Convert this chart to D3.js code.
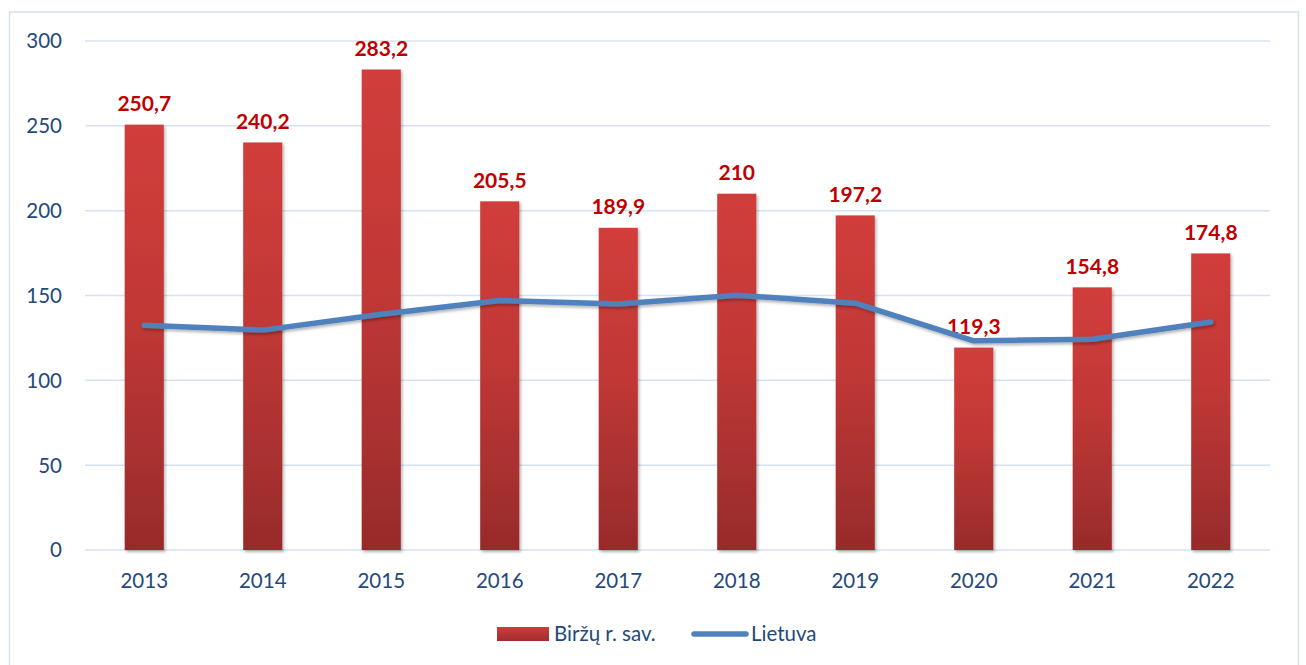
<!DOCTYPE html>
<html>
<head>
<meta charset="utf-8">
<script src="https://cdn.jsdelivr.net/npm/d3@7/dist/d3.min.js"></script>
<style>
  html, body { margin: 0; padding: 0; background: #fff; }
  svg { display: block; }
</style>
</head>
<body>
<svg id="chart" width="1306" height="665"></svg>
<script>
// Years shown on the horizontal axis
const years = ["2013", "2014", "2015", "2016", "2017", "2018", "2019", "2020", "2021", "2022"];
// Biržų r. sav. (bars)
const birzai = [250.7, 240.2, 283.2, 205.5, 189.9, 210, 197.2, 119.3, 154.8, 174.8];
// Lietuva (line)
const lietuva = [132.4, 129.6, 139.0, 147.0, 145.0, 150.2, 145.5, 123.3, 124.2, 134.4];
// Value axis ticks
const yTicks = [0, 50, 100, 150, 200, 250, 300];

const svg = d3.select("#chart");
const font = "Lato, 'Noto Sans', sans-serif";
const axisColor = "#24497c";

const defs = svg.append("defs");
const grad = defs.append("linearGradient")
  .attr("id", "barGrad").attr("x1", 0).attr("y1", 0).attr("x2", 0).attr("y2", 1);
grad.append("stop").attr("offset", "0%").attr("stop-color", "#d13d3b");
grad.append("stop").attr("offset", "45%").attr("stop-color", "#c13836");
grad.append("stop").attr("offset", "100%").attr("stop-color", "#982b2b");

const legGrad = defs.append("linearGradient")
  .attr("id", "legGrad").attr("x1", 0).attr("y1", 0).attr("x2", 0).attr("y2", 1);
legGrad.append("stop").attr("offset", "0%").attr("stop-color", "#cf3c3a");
legGrad.append("stop").attr("offset", "100%").attr("stop-color", "#9e2d2d");

const shadow = defs.append("filter").attr("id", "shadow")
  .attr("x", "-20%").attr("y", "-20%").attr("width", "140%").attr("height", "140%");
shadow.append("feDropShadow").attr("dx", 1.5).attr("dy", 2).attr("stdDeviation", 1.8)
  .attr("flood-color", "#000").attr("flood-opacity", 0.3);

// Outer frame
svg.append("rect")
  .attr("x", 9.5).attr("y", 12).attr("width", 1289).attr("height", 670)
  .attr("fill", "none").attr("stroke", "#d5e1f1").attr("stroke-width", 1.5);

const x = d3.scaleBand().domain(years).range([85, 1270])
  .paddingInner(0.67).paddingOuter(0.335);
const y = d3.scaleLinear().domain([0, 300]).range([550, 41]);

// Horizontal gridlines
svg.append("g").selectAll("line").data(yTicks).join("line")
  .attr("x1", 85).attr("x2", 1270)
  .attr("y1", d => y(d)).attr("y2", d => y(d))
  .attr("stroke", "#d6e2f2").attr("stroke-width", 1.5);

// Y axis labels
const yAxis = d3.axisLeft(y).tickValues(yTicks).tickSize(0).tickPadding(0);
const gy = svg.append("g").attr("transform", "translate(62,0)").call(yAxis);
gy.select(".domain").remove();
gy.selectAll("text").attr("font-family", font).attr("font-size", 20.5)
  .attr("fill", axisColor).attr("text-anchor", "end").attr("dy", "0.34em");

// X axis labels
const xAxis = d3.axisBottom(x).tickSize(0).tickPadding(0);
const gx = svg.append("g").attr("transform", "translate(0,581)").call(xAxis);
gx.select(".domain").remove();
gx.selectAll("text").attr("font-family", font).attr("font-size", 20.5)
  .attr("fill", axisColor).attr("dy", "0.34em");

// Bars
svg.append("g").selectAll("rect").data(years).join("rect")
  .attr("x", d => x(d))
  .attr("y", (d, i) => y(birzai[i]))
  .attr("width", x.bandwidth())
  .attr("height", (d, i) => y(0) - y(birzai[i]))
  .attr("fill", "url(#barGrad)")
  .attr("filter", "url(#shadow)");

// Value labels
svg.append("g").selectAll("text").data(years).join("text")
  .attr("x", d => x(d) + x.bandwidth() / 2)
  .attr("y", (d, i) => y(birzai[i]) - 21)
  .attr("dy", "0.35em")
  .attr("text-anchor", "middle")
  .attr("font-family", font).attr("font-weight", "bold").attr("font-size", 21)
  .attr("fill", "#c00000")
  .text((d, i) => String(birzai[i]).replace(".", ","));

// Line
const line = d3.line()
  .x((d, i) => x(years[i]) + x.bandwidth() / 2)
  .y(d => y(d));
svg.append("path").datum(lietuva)
  .attr("d", line)
  .attr("fill", "none").attr("stroke", "#4f81bd").attr("stroke-width", 5.5)
  .attr("stroke-linecap", "round").attr("stroke-linejoin", "round")
  .attr("filter", "url(#shadow)");

// Legend
const leg = svg.append("g");
leg.append("rect").attr("x", 497).attr("y", 627).attr("width", 52).attr("height", 14)
  .attr("fill", "url(#legGrad)");
leg.append("text").attr("x", 554).attr("y", 634).attr("dy", "0.35em")
  .attr("font-family", font).attr("font-size", 20.5).attr("fill", axisColor)
  .text("Biržų r. sav.");
leg.append("line").attr("x1", 694).attr("x2", 746).attr("y1", 634).attr("y2", 634)
  .attr("stroke", "#4f81bd").attr("stroke-width", 5.5).attr("stroke-linecap", "round");
leg.append("text").attr("x", 751).attr("y", 634).attr("dy", "0.35em")
  .attr("font-family", font).attr("font-size", 20.5).attr("fill", axisColor)
  .text("Lietuva");
</script>
</body>
</html>
